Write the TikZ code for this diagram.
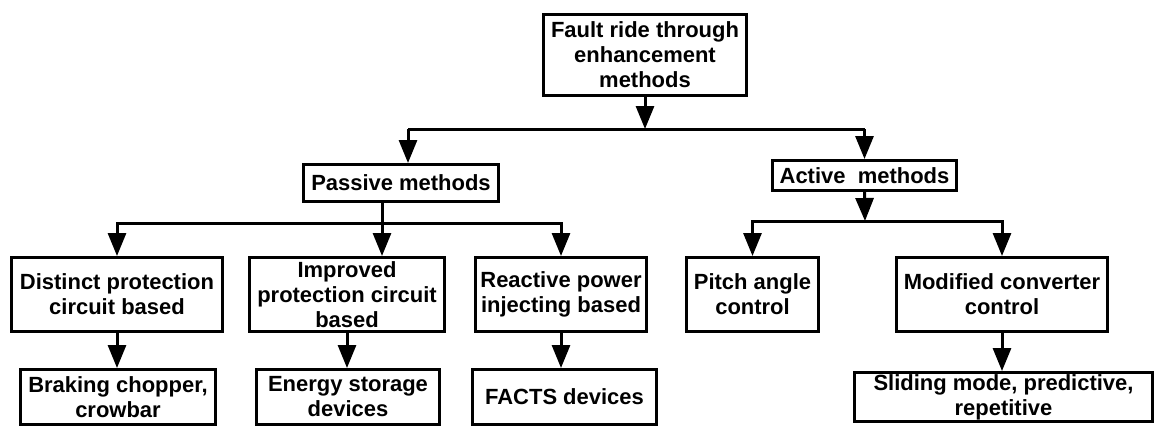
\documentclass[tikz,border=0pt]{standalone}
\usepackage{fontspec}
\setmainfont{Liberation Sans}
\usepackage{xcolor}
\definecolor{boxdraw}{rgb}{0,0,0}
\definecolor{boxfill}{rgb}{1,1,1}
\definecolor{flowdraw}{rgb}{0,0,0}
\usepackage{tikz}
\usetikzlibrary{positioning,arrows.meta}

\begin{document}
\begin{tikzpicture}[
  >={Triangle[length=4.6mm, width=3.6mm]},
  every node/.style={align=center, inner sep=1pt, font=\fontsize{12.5}{14.2}\selectfont\bfseries},
  methodbox/.style ={rectangle, draw=boxdraw, line width=0.6mm, fill=boxfill},
  flow/.style      ={->, line width=0.6mm, draw=flowdraw},
  bus/.style       ={line width=0.6mm, draw=flowdraw}
]
\useasboundingbox (0,0) rectangle (23.14,-8.56);

\node[methodbox, minimum width=40.6mm, minimum height=16.2mm] (frt) at (12.90,-1.10)
   {Fault ride through\\enhancement\\methods};

\node[methodbox, minimum width=39mm, minimum height=7.4mm] (passive) at (8.02,-3.66) {Passive methods};
\node[methodbox, minimum width=36.8mm, minimum height=6mm] (active) at (17.29,-3.51) {Active\ \ methods};

\node[methodbox, minimum width=42.2mm, minimum height=14.8mm] (distinct) at (2.34,-5.89)
   {Distinct protection\\circuit based};
\node[methodbox, minimum width=39mm, minimum height=14.8mm] (improved) at (6.94,-5.89)
   {Improved\\protection circuit\\based};
\node[methodbox, minimum width=34.2mm, minimum height=14.8mm] (reactive) at (11.22,-5.89)
   {Reactive power\\injecting based};
\node[methodbox, minimum width=26.4mm, minimum height=14.8mm] (pitch) at (15.05,-5.89)
   {Pitch angle\\control};
\node[methodbox, minimum width=42.2mm, minimum height=14.8mm] (modified) at (20.04,-5.89)
   {Modified converter\\control};

\node[methodbox, minimum width=39mm, minimum height=11mm] (braking) at (2.36,-7.94)
   {Braking chopper,\\crowbar};
\node[methodbox, minimum width=36.6mm, minimum height=11mm] (energy) at (6.96,-7.94)
   {Energy storage\\devices};
\node[methodbox, minimum width=36.8mm, minimum height=11mm] (facts) at (11.29,-7.94)
   {FACTS devices};
\node[methodbox, minimum width=59.6mm, minimum height=9.4mm] (sliding) at (20.07,-7.94)
   {Sliding mode, predictive,\\repetitive};

% branch points on the horizontal buses
\coordinate (topbus) at (12.90,-2.58);
\coordinate (pbus)   at (7.64,-4.46);
\coordinate (abus)   at (17.30,-4.42);

\draw[flow] (frt.south) -- (topbus);
\draw[bus] ([xshift=1.4mm]passive.north |- topbus) -- (active.north |- topbus);
\draw[flow] ([xshift=1.4mm]passive.north |- topbus) -- ([xshift=1.4mm]passive.north);
\draw[flow] (active.north |- topbus) -- (active.north);

% passive branch: the stem runs straight on into the middle box
\draw[flow] (passive.south -| pbus) -- (improved.north -| pbus);
\draw[flow] (pbus) -| (distinct.north);
\draw[flow] (pbus) -| (reactive.north);

\draw[flow] (active.south) -- (abus);
\draw[flow] (abus) -| (pitch.north);
\draw[flow] (abus) -| (modified.north);

\draw[flow] (distinct.south) -- (distinct.south |- braking.north);
\draw[flow] (improved.south) -- (improved.south |- energy.north);
\draw[flow] (reactive.south) -- (reactive.south |- facts.north);
\draw[flow] (modified.south) -- (modified.south |- sliding.north);

\end{tikzpicture}
\end{document}
